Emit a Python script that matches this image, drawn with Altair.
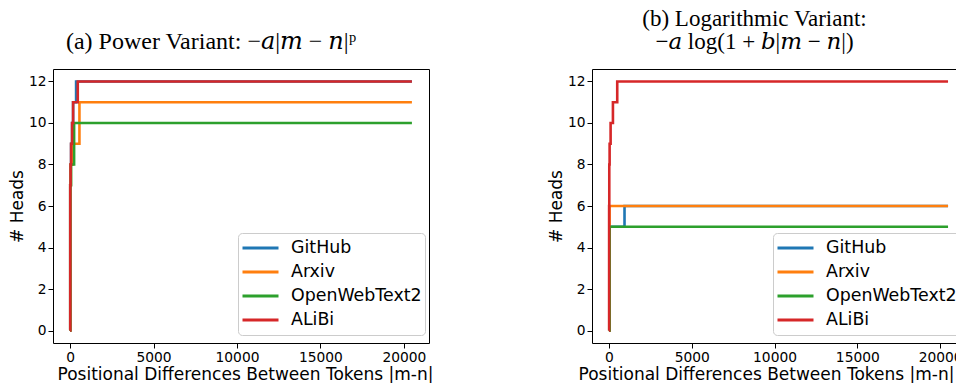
import altair as alt
import pandas as pd

series = ["GitHub", "Arxiv", "OpenWebText2", "ALiBi"]
colors = ["#1f77b4", "#ff7f0e", "#2ca02c", "#d62728"]
x_ticks = [0, 5000, 10000, 15000, 20000]
y_ticks = [0, 2, 4, 6, 8, 10, 12]
x_title = "Positional Differences Between Tokens |m-n|"

# (a) Power variant: step points (token distance, # heads)
pow_github_x = [0, 10, 30, 60, 120, 180, 360, 20480]
pow_github_y = [0, 7, 8, 9, 10, 11, 12, 12]
pow_arxiv_x = [0, 10, 40, 160, 560, 20480]
pow_arxiv_y = [0, 7, 8, 9, 11, 11]
pow_owt_x = [0, 10, 60, 240, 20480]
pow_owt_y = [0, 7, 8, 10, 10]
pow_alibi_x = [0, 10, 30, 60, 120, 180, 460, 20480]
pow_alibi_y = [0, 7, 8, 9, 10, 11, 12, 12]

# (b) Logarithmic variant
log_github_x = [0, 40, 940, 20480]
log_github_y = [0, 5, 6, 6]
log_arxiv_x = [0, 40, 20480]
log_arxiv_y = [0, 6, 6]
log_owt_x = [0, 40, 20480]
log_owt_y = [0, 5, 5]
log_alibi_x = [0, 10, 20, 40, 100, 240, 500, 20480]
log_alibi_y = [0, 6, 8, 9, 10, 11, 12, 12]


def frame(parts):
    rows = []
    for name, xs, ys in parts:
        for i, (xv, yv) in enumerate(zip(xs, ys)):
            rows.append({"x": xv, "heads": yv, "series": name,
                         "k": series.index(name), "i": i})
    return pd.DataFrame(rows)


df_pow = frame([("GitHub", pow_github_x, pow_github_y),
                ("Arxiv", pow_arxiv_x, pow_arxiv_y),
                ("OpenWebText2", pow_owt_x, pow_owt_y),
                ("ALiBi", pow_alibi_x, pow_alibi_y)])
df_log = frame([("GitHub", log_github_x, log_github_y),
                ("Arxiv", log_arxiv_x, log_arxiv_y),
                ("OpenWebText2", log_owt_x, log_owt_y),
                ("ALiBi", log_alibi_x, log_alibi_y)])


def panel(df, title, w, legend_x, title_x):
    return alt.Chart(df, title=title).mark_line(
        interpolate="step-after", strokeWidth=2.6, clip=True
    ).encode(
        x=alt.X("x:Q",
                scale=alt.Scale(domain=[-1024, 21504], nice=False, zero=False),
                axis=alt.Axis(values=x_ticks, format="d", title=x_title,
                              titleX=title_x)),
        y=alt.Y("heads:Q",
                scale=alt.Scale(domain=[-0.6, 12.6], nice=False, zero=False),
                axis=alt.Axis(values=y_ticks, title="# Heads")),
        color=alt.Color("series:N",
                        scale=alt.Scale(domain=series, range=colors),
                        legend=alt.Legend(title=None, orient="none",
                                          legendX=legend_x, legendY=164)),
        detail="k:O",
        order="i:Q",
    ).properties(width=w, height=274)


left = panel(df_pow,
             alt.TitleParams(text="(a) Power Variant: −𝑎|𝑚 − 𝑛|ᵖ", dx=-30,
                             fontSize=24),
             376, 185, 192)
right = panel(df_log,
              alt.TitleParams(text=["(b) Logarithmic Variant:",
                                    "−𝑎 log(1 + 𝑏|𝑚 − 𝑛|)"], dx=-24,
                              fontSize=23),
              373, 181, 174)

chart = alt.hconcat(left, right, spacing=163, bounds="flush").resolve_legend(
    color="independent"
).properties(
    autosize=alt.AutoSizeParams(type="none"),
    padding={"left": 45, "top": 61, "right": 903, "bottom": 314}
).configure_view(
    stroke="black", strokeWidth=1
).configure_axis(
    domain=False, grid=False, tickColor="black", tickSize=5,
    labelFont="DejaVu Sans", labelFontSize=13.8, labelColor="black",
    titleFont="DejaVu Sans", titleFontSize=17, titleFontWeight="normal",
    titleColor="black", labelPadding=2
).configure_axisY(
    titlePadding=1.5
).configure_axisX(
    titlePadding=3
).configure_title(
    font="Liberation Serif, DejaVu Serif", fontWeight="normal",
    color="black", anchor="middle", baseline="alphabetic", offset=15,
    lineHeight=23
).configure_legend(
    fillColor="white", strokeColor="#cccccc", cornerRadius=4,
    padding=3, labelFont="DejaVu Sans", labelFontSize=17.4, labelColor="black",
    symbolType="stroke", symbolStrokeWidth=3, symbolSize=1296,
    labelOffset=11, rowPadding=0, clipHeight=24
)

chart.save("out.html", embed_options={"renderer": "svg", "actions": False})
